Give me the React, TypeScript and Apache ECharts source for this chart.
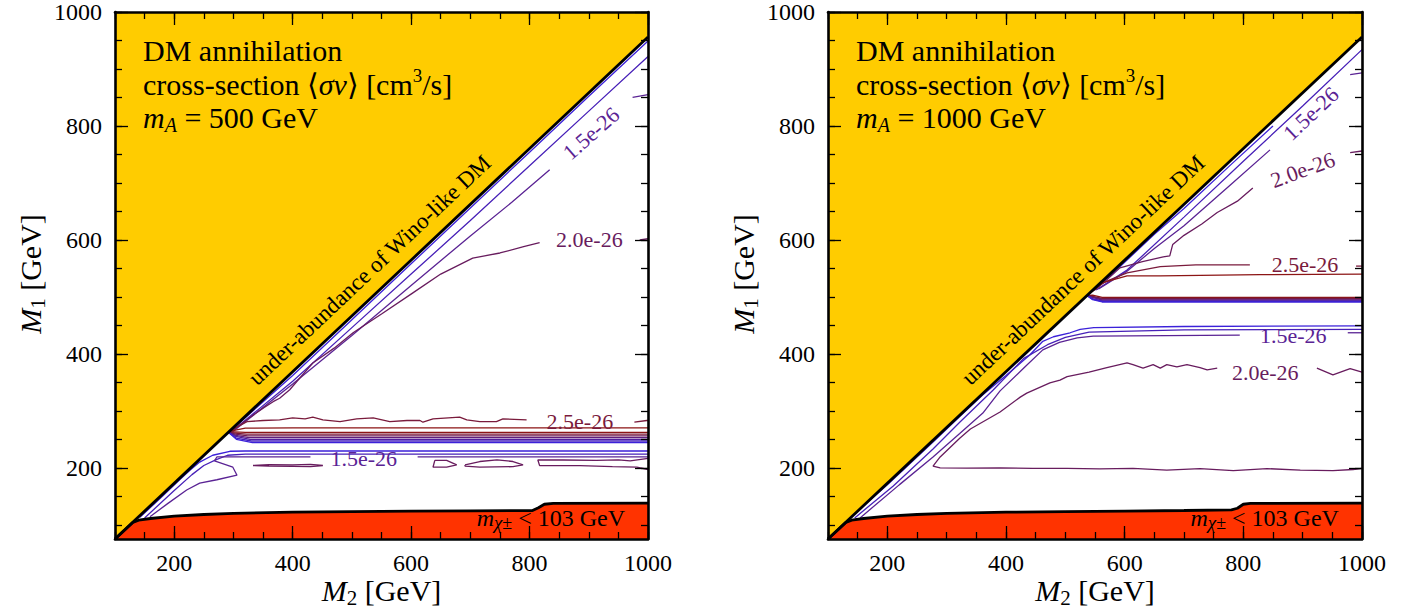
import { useEffect, useRef } from "react";
import * as echarts from "echarts";

const SERIF = "'Liberation Serif', 'DejaVu Serif', serif";

// ---- axes ----
const X_MIN = 100;
const X_MAX = 1000;
const Y_MIN = 75;
const Y_MAX = 1000;
const xMajorTicks = [200, 400, 600, 800, 1000];
const xMinorTicks = [100, 150, 200, 250, 300, 350, 400, 450, 500, 550, 600, 650, 700, 750, 800, 850, 900, 950, 1000];
const yMajorTicks = [200, 400, 600, 800, 1000];
const yMinorTicks = [100, 150, 200, 250, 300, 350, 400, 450, 500, 550, 600, 650, 700, 750, 800, 850, 900, 950, 1000];

const panelMassLabels = ["500 GeV", "1000 GeV"];

// ---- colours ----
const YELLOW = "#ffcc00";
const RED_FILL = "#ff3300";
const C = {
  blue: "#3b21d9",
  indigo: "#4720b8",
  purple: "#5a2394",
  plum: "#681c5e",
  maroon: "#7a1b3c",
  red: "#8c1515",
};
const bundleColors = ["#8c1515", "#7d1833", "#6e1b57", "#5f1d7a", "#501e9d", "#4420bf", "#3b21d9"];

// ---- region boundaries ----
const underAbundanceEdge = [[100, 75], [1000, 956]];
const charginoEdgeA = [[100, 75], [130, 104], [140, 108], [160, 111], [200, 115], [250, 118], [300, 120], [400, 122], [500, 123], [600, 124], [700, 124.5], [805, 125], [815, 130], [825, 136], [840, 137.5], [1000, 138]];
const charginoEdgeB = [[100, 75], [130, 104], [140, 108], [160, 111], [200, 115], [250, 118], [300, 120], [400, 122], [500, 123], [600, 124], [700, 125], [780, 126], [790, 129], [800, 136], [812, 137.5], [1000, 138]];

type Seg = { c: string; d: number[][] };

// ---- contour lines, panel A (m_A = 500 GeV) ----
const contoursA: Seg[] = [
  // above resonance, along the diagonal
  { c: C.blue, d: [[293, 263], [400, 362], [500, 460], [600, 558], [700, 656], [800, 754], [900, 852], [1000, 949]] },
  { c: C.indigo, d: [[296, 263], [400, 352], [500, 446], [600, 540], [700, 634], [800, 730], [900, 826], [1000, 922]] },
  { c: C.purple, d: [[298, 263], [400, 347], [500, 432], [600, 520], [700, 607], [770, 666], [834, 723]] },
  { c: C.purple, d: [[974, 850], [1000, 855]] },
  { c: C.plum, d: [[298, 265], [330, 290], [352, 306], [367, 316], [378, 322], [395, 337], [434, 384], [470, 410], [502, 437], [550, 470], [603, 507], [650, 540], [704, 568], [750, 577], [790, 588], [817, 595]] },
  { c: C.plum, d: [[986, 600], [1000, 602]] },
  // resonance M1 ~ m_A/2
  { c: C.maroon, d: [[294, 265], [323, 281], [350, 283], [378, 284], [400, 287.5], [421, 286], [434, 289], [451, 284], [480, 281], [508, 286], [536, 287.5], [564, 281], [593, 283], [615, 283], [620, 280], [637, 286], [682, 289], [694, 284], [716, 281], [744, 281], [755, 286], [795, 284]] },
  { c: C.maroon, d: [[977, 280], [998, 283], [1000, 283]] },
  { c: C.red, d: [[293, 264], [320, 269.5], [400, 270], [1000, 270]] },
  { c: bundleColors[0], d: [[292, 262], [302, 263], [320, 262], [1000, 262]] },
  { c: bundleColors[1], d: [[292, 262], [302, 261], [322, 259], [1000, 259]] },
  { c: bundleColors[2], d: [[292, 262], [303, 259], [324, 256], [1000, 256]] },
  { c: bundleColors[3], d: [[292, 262], [304, 257], [326, 253], [1000, 253]] },
  { c: bundleColors[4], d: [[292, 262], [304, 255], [328, 250], [1000, 250]] },
  { c: bundleColors[5], d: [[292, 262], [305, 252], [330, 247], [1000, 247]] },
  { c: bundleColors[6], d: [[292, 262], [305, 250], [332, 244], [1000, 244]] },
  // below resonance
  { c: C.blue, d: [[142, 113], [180, 150], [210, 180], [227, 196], [243, 210], [265, 222], [294, 229], [320, 229.5], [1000, 229.5]] },
  { c: C.indigo, d: [[150, 112], [200, 160], [230, 188], [250, 204], [270, 214], [290, 222], [320, 224], [1000, 224]] },
  { c: C.purple, d: [[159, 114], [190, 138], [221, 161], [243, 173], [272, 179], [306, 187], [299, 201], [268, 212], [272, 219], [430, 219]] },
  { c: C.purple, d: [[611, 219], [1000, 219]] },
  { c: C.plum, d: [[333, 204], [360, 205.5], [400, 205], [430, 206], [451, 204], [430, 202], [400, 202.5], [360, 203], [333, 204]] },
  { c: C.plum, d: [[640, 213], [660, 213], [677, 205], [660, 201], [637, 201], [640, 213]] },
  { c: C.plum, d: [[691, 205], [716, 211], [745, 214], [772, 211], [789, 205], [772, 202], [716, 201], [691, 203], [691, 205]] },
  { c: C.plum, d: [[1000, 197], [981, 201], [940, 202], [885, 203.7], [817, 203.7], [814, 213.7], [856, 213.7], [913, 213], [950, 214], [970, 212], [1000, 216.5]] },
];

// ---- contour lines, panel B (m_A = 1000 GeV) ----
const contoursB: Seg[] = [
  // above resonance
  { c: C.blue, d: [[548, 511], [587, 548], [650, 610], [700, 655], [780, 733], [850, 800]] },
  { c: C.indigo, d: [[552, 512], [604, 547], [700, 640], [800, 738], [900, 835], [1000, 934]] },
  { c: C.purple, d: [[556, 514], [604, 545], [650, 585], [700, 625], [780, 698], [845, 758]] },
  { c: C.purple, d: [[980, 890], [1000, 893]] },
  { c: C.plum, d: [[550, 512], [570, 530], [592, 551], [630, 562], [665, 570], [676, 572], [681, 592], [700, 608], [730, 628], [756, 648], [790, 668], [816, 691]] },
  { c: C.plum, d: [[980, 753], [1000, 756]] },
  { c: C.maroon, d: [[545, 510], [558, 521], [575, 530], [604, 542], [660, 553], [720, 556], [811, 556]] },
  { c: C.maroon, d: [[990, 554], [1000, 554]] },
  { c: C.red, d: [[545, 509], [563, 525], [604, 537], [660, 537], [828, 539], [1000, 540]] },
  // resonance
  { c: bundleColors[0], d: [[537, 502], [546, 503], [562, 499], [1000, 499]] },
  { c: bundleColors[1], d: [[537, 502], [546, 501], [562, 497.5], [1000, 497.5]] },
  { c: bundleColors[2], d: [[537, 502], [546, 500], [562, 496], [1000, 496]] },
  { c: bundleColors[3], d: [[537, 502], [546, 499], [562, 494.5], [1000, 494.5]] },
  { c: bundleColors[4], d: [[537, 502], [546, 497], [562, 493], [1000, 493]] },
  { c: bundleColors[5], d: [[537, 502], [546, 496], [562, 492], [1000, 492]] },
  { c: bundleColors[6], d: [[537, 502], [546, 495], [562, 491], [1000, 491]] },
  // below resonance
  { c: C.blue, d: [[137, 112], [200, 170], [277, 245], [322, 290], [361, 328], [400, 362], [440, 398], [462, 422], [480, 430], [508, 437], [525, 443], [548, 446], [700, 448], [1000, 449]] },
  { c: C.indigo, d: [[145, 112], [210, 168], [277, 233], [322, 280], [378, 336], [430, 392], [470, 416], [500, 429], [540, 438], [700, 442], [1000, 443]] },
  { c: C.purple, d: [[154, 112], [220, 170], [277, 219], [322, 260], [361, 296], [390, 335], [430, 375], [462, 407], [490, 420], [520, 428], [547, 431], [794, 433]] },
  { c: C.purple, d: [[976, 437], [1000, 437]] },
  { c: C.plum, d: [[1000, 199], [985, 197], [951, 195], [896, 196], [840, 198.5], [783, 195], [727, 198.5], [671, 196], [614, 199], [558, 198], [503, 199], [445, 199], [390, 200], [334, 199.5], [289, 200], [277, 203], [289, 219], [322, 252], [340, 268], [390, 298], [424, 324], [435, 331], [474, 349], [491, 354], [503, 360], [540, 368], [570, 376], [604, 384], [614, 381], [631, 375], [648, 381], [660, 375], [671, 381], [688, 377], [705, 381], [727, 376], [739, 372], [756, 375]] },
  { c: C.plum, d: [[924, 375], [951, 363], [980, 374], [1000, 368]] },
];

// contour labels: text, colour, anchor (data), direction points (data) or null for horizontal
type Lab = { t: string; c: string; at: number[]; dir: number[][] | null };
const labelsA: Lab[] = [
  { t: "1.5e-26", c: C.purple, at: [904, 787], dir: [[834, 723], [974, 850]] },
  { t: "2.0e-26", c: C.plum, at: [901, 600], dir: null },
  { t: "2.5e-26", c: C.maroon, at: [885, 282], dir: null },
  { t: "1.5e-26", c: C.purple, at: [520, 217], dir: null },
];
const labelsB: Lab[] = [
  { t: "1.5e-26", c: C.purple, at: [914, 822], dir: [[845, 758], [980, 890]] },
  { t: "2.0e-26", c: C.plum, at: [900, 723], dir: [[816, 691], [980, 753]] },
  { t: "2.5e-26", c: C.maroon, at: [904, 556], dir: null },
  { t: "1.5e-26", c: C.purple, at: [884, 432], dir: null },
  { t: "2.0e-26", c: C.plum, at: [837, 367], dir: null },
];

const abundanceAnchor = [530, 547];
const charginoAnchor = [836, 112];

const GRIDS = [
  { left: 115, top: 12, width: 533, height: 527 },
  { left: 828, top: 12, width: 534, height: 527 },
];

function axisPair(p: number, dim: "x" | "y") {
  const major = dim === "x" ? xMajorTicks : yMajorTicks;
  const minor = dim === "x" ? xMinorTicks : yMinorTicks;
  const min = dim === "x" ? X_MIN : Y_MIN;
  const max = dim === "x" ? X_MAX : Y_MAX;
  const sides = dim === "x" ? ["bottom", "top"] : ["left", "right"];
  const out: any[] = [];
  sides.forEach((side, si) => {
    [true, false].forEach((isMajor) => {
      out.push({
        gridIndex: p,
        type: "value",
        min,
        max,
        position: side,
        z: 10,
        splitLine: { show: false },
        axisLine: { show: isMajor, onZero: false, lineStyle: { color: "#000", width: 2.6 } },
        axisTick: {
          show: true,
          inside: true,
          length: isMajor ? 13 : 7,
          customValues: isMajor ? major : minor,
          lineStyle: { color: "#000", width: 1.3 },
        },
        axisLabel: {
          show: isMajor && si === 0,
          customValues: major,
          formatter: (v: number) => String(v),
          color: "#000",
          fontFamily: SERIF,
          fontSize: 24,
          margin: dim === "x" ? 12 : 13,
        },
      });
    });
  });
  return out;
}

export default function App() {
  const ref = useRef<HTMLDivElement>(null);
  useEffect(() => {
    if (!ref.current) return;
    const chart = echarts.init(ref.current, undefined, { renderer: "svg" });
    const series: any[] = [];
    [0, 1].forEach((p) => {
      const ai = p * 4;
      const base = { type: "line", xAxisIndex: ai, yAxisIndex: ai, showSymbol: false, symbol: "none", silent: true, animation: false };
      series.push({ ...base, z: 1, data: underAbundanceEdge, lineStyle: { width: 0 }, areaStyle: { color: YELLOW, opacity: 1, origin: "end" } });
      series.push({ ...base, z: 1, data: p === 0 ? charginoEdgeA : charginoEdgeB, lineStyle: { width: 0 }, areaStyle: { color: RED_FILL, opacity: 1, origin: "start" } });
      (p === 0 ? contoursA : contoursB).forEach((s) => {
        series.push({ ...base, z: 3, data: s.d, lineStyle: { color: s.c, width: 1.3 } });
      });
      series.push({ ...base, z: 5, data: underAbundanceEdge, lineStyle: { color: "#000", width: 2.8 } });
      series.push({ ...base, z: 5, data: p === 0 ? charginoEdgeA : charginoEdgeB, lineStyle: { color: "#000", width: 2.8 } });
    });

    chart.setOption({
      animation: false,
      backgroundColor: "#ffffff",
      grid: GRIDS.map((g) => ({ ...g, containLabel: false })),
      xAxis: [...axisPair(0, "x"), ...axisPair(1, "x")],
      yAxis: [...axisPair(0, "y"), ...axisPair(1, "y")],
      series,
    });

    const toPx = (p: number, pt: number[]) => chart.convertToPixel({ gridIndex: p } as any, pt) as number[];
    const graphics: any[] = [];
    const txt = (x: number, y: number, text: string, extra: any, rotation = 0, rich?: any) => ({
      type: "text",
      x,
      y,
      rotation,
      z: 20,
      silent: true,
      style: {
        text,
        fill: "#000",
        fontFamily: SERIF,
        align: "center",
        verticalAlign: "middle",
        textAlign: "center",
        textVerticalAlign: "middle",
        rich,
        ...extra,
      },
    });

    [0, 1].forEach((p) => {
      const g = GRIDS[p];
      // annotation block
      const ax = g.left + 28;
      const richMain = {
        i: { fontStyle: "italic", fontSize: 30, fontFamily: SERIF, lineHeight: 36 },
        ang: { fontSize: 30, fontFamily: "'DejaVu Serif', serif", lineHeight: 36 },
        sup: { fontSize: 19, fontFamily: SERIF, lineHeight: 20, verticalAlign: "top" },
        sub: { fontStyle: "italic", fontSize: 20, fontFamily: SERIF, lineHeight: 19, verticalAlign: "bottom" },
      };
      const lineStyle = { fontSize: 30, lineHeight: 36, align: "left", textAlign: "left" };
      graphics.push(txt(ax, 50, "DM annihilation", lineStyle, 0, richMain));
      graphics.push(txt(ax, 84, "cross-section {ang|⟨}{i|σv}{ang|⟩} [cm{sup|3}/s]", lineStyle, 0, richMain));
      graphics.push(txt(ax, 117, "{i|m}{sub|A} = " + panelMassLabels[p], lineStyle, 0, richMain));

      // axis titles
      const richTitle = {
        i: { fontStyle: "italic", fontSize: 30, fontFamily: SERIF, lineHeight: 36 },
        sub: { fontSize: 21, fontFamily: SERIF, lineHeight: 20, verticalAlign: "bottom" },
      };
      graphics.push(txt(g.left + g.width / 2, g.top + g.height + 51, "{i|M}{sub|2} [GeV]", { fontSize: 30, lineHeight: 36 }, 0, richTitle));
      graphics.push(txt(g.left - 85, g.top + 262, "{i|M}{sub|1} [GeV]", { fontSize: 30, lineHeight: 36 }, Math.PI / 2, richTitle));

      // under-abundance label along the diagonal
      const d0 = toPx(p, underAbundanceEdge[0]);
      const d1 = toPx(p, underAbundanceEdge[1]);
      const diagAngle = Math.atan2(d0[1] - d1[1], d1[0] - d0[0]);
      const aa = toPx(p, abundanceAnchor);
      graphics.push(txt(aa[0], aa[1], "under-abundance of Wino-like DM", { fontSize: 23 }, diagAngle));

      // chargino bound label
      const ca = toPx(p, charginoAnchor);
      graphics.push(
        txt(ca[0], ca[1], "{i|m}{sub|χ}{pm|±} < 103 GeV", { fontSize: 24, lineHeight: 28 }, 0, {
          i: { fontStyle: "italic", fontSize: 24, fontFamily: SERIF, lineHeight: 28 },
          sub: { fontStyle: "italic", fontSize: 19, fontFamily: SERIF, lineHeight: 14, verticalAlign: "bottom" },
          pm: { fontSize: 18, fontFamily: SERIF, lineHeight: 24, verticalAlign: "bottom" },
        })
      );

      // contour labels
      (p === 0 ? labelsA : labelsB).forEach((l) => {
        const at = toPx(p, l.at);
        let rot = 0;
        if (l.dir) {
          const a = toPx(p, l.dir[0]);
          const b = toPx(p, l.dir[1]);
          rot = Math.atan2(a[1] - b[1], b[0] - a[0]);
        }
        graphics.push(txt(at[0], at[1], l.t, { fontSize: 22, fill: l.c }, rot));
      });
    });

    chart.setOption({ graphic: graphics });
    return () => chart.dispose();
  }, []);
  return <div ref={ref} style={{ position: "absolute", left: 0, top: 0, width: 1414, height: 614, background: "#fff" }} />;
}
